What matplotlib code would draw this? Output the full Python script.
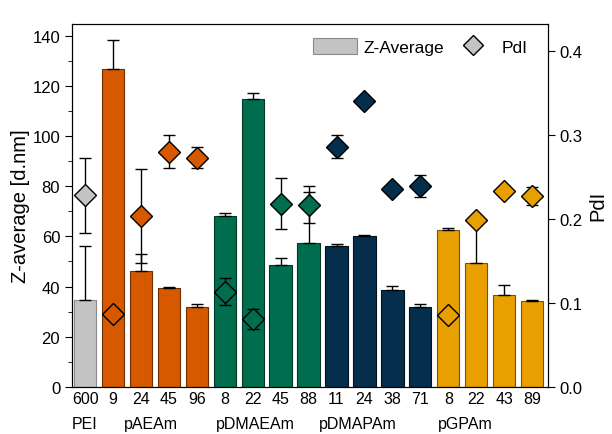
import matplotlib.pyplot as plt
from matplotlib.patches import Patch
from matplotlib.lines import Line2D
from matplotlib.ticker import MultipleLocator

plt.rcParams['font.family'] = ['Liberation Sans', 'DejaVu Sans']

# degree of polymerisation labels under each bar
samples = ["600", "9", "24", "45", "96", "8", "22", "45", "88",
           "11", "24", "38", "71", "8", "22", "43", "89"]
groups = ["PEI", "pAEAm", "pDMAEAm", "pDMAPAm", "pGPAm"]
group_sizes = [1, 4, 4, 4, 4]
group_colors = ["#c3c3c3", "#d65900", "#006d4f", "#052e4c", "#e8a000"]
group_edges = ["#8a8a8a", "#6e2e00", "#003826", "#01121f", "#7a5400"]

z_avg = [34.6, 126.8, 46.1, 39.4, 32.0, 68.2, 114.9, 48.5, 57.3,
         56.2, 60.2, 38.6, 32.0, 62.4, 49.4, 36.8, 34.2]
z_err = [21.5, 11.5, 6.7, 0.4, 1.0, 1.0, 2.3, 2.9, 20.4,
         0.7, 0.2, 1.6, 0.9, 1.0, 17.0, 3.8, 0.3]
pdi = [0.228, 0.087, 0.203, 0.280, 0.273, 0.113, 0.081, 0.218, 0.217,
       0.286, 0.340, 0.236, 0.239, 0.086, 0.199, 0.233, 0.227]
pdi_err = [0.045, 0.005, 0.056, 0.020, 0.0125, 0.016, 0.012, 0.030, 0.022,
           0.014, 0.002, 0.004, 0.013, 0.005, 0.004, 0.004, 0.011]

# x position of the group names (in bar units)
group_label_pos = [0, 2.36, 6.1, 9.75, 13.6]

colors = []
edges = []
for c, e, n in zip(group_colors, group_edges, group_sizes):
    colors += [c] * n
    edges += [e] * n

x = list(range(len(samples)))

fig = plt.figure(figsize=(6.12, 4.35), dpi=100)
ax1 = fig.add_axes([0.1176, 0.1087, 0.7778, 0.8338])
ax2 = ax1.twinx()

ax1.bar(x, z_avg, width=0.8, color=colors, edgecolor=edges, linewidth=0.8,
        yerr=[[0] * len(z_err), z_err], capsize=4,
        error_kw=dict(ecolor="black", elinewidth=1, capthick=1))

for xi, p, pe, c in zip(x, pdi, pdi_err, colors):
    ax2.errorbar(xi, p, yerr=pe, fmt="D", color="black", markersize=11,
                 markerfacecolor=c, markeredgecolor="black", markeredgewidth=1,
                 elinewidth=1, capsize=4, capthick=1)

ax1.set_xlim(-0.47, 16.57)
ax1.set_ylim(0, 144.8)
ax2.set_ylim(0, 0.432)

ax1.set_xticks(x)
ax1.set_xticklabels(samples, fontsize=11.5)
ax1.tick_params(axis="x", length=0, pad=3)
ax1.yaxis.set_major_locator(MultipleLocator(20))
ax1.yaxis.set_minor_locator(MultipleLocator(10))
ax1.tick_params(axis="y", which="major", direction="out", length=5, labelsize=12)
ax1.tick_params(axis="y", which="minor", direction="out", length=3)
ax2.yaxis.set_major_locator(MultipleLocator(0.1))
ax2.tick_params(axis="y", which="major", direction="out", length=5, labelsize=12)

ax1.set_ylabel("Z-average [d.nm]", fontsize=14.5, labelpad=2)
ax2.set_ylabel("PdI", fontsize=14.5)

for pos, name in zip(group_label_pos, groups):
    ax1.text(pos, -0.08, name, transform=ax1.get_xaxis_transform(),
             ha="center", va="top", fontsize=11.5)

handles = [Patch(facecolor="#c3c3c3", edgecolor="#8a8a8a", linewidth=0.8),
           Line2D([], [], marker="D", linestyle="none", markersize=10,
                  markerfacecolor="#c3c3c3", markeredgecolor="black")]
ax2.legend(handles, ["Z-Average", "PdI"], ncol=2, frameon=False,
           loc="upper right", bbox_to_anchor=(0.99, 1.005), fontsize=12.5,
           handlelength=2.5, handleheight=1.1, handletextpad=0.4,
           columnspacing=0.4)

plt.savefig("out.png", dpi=100)
